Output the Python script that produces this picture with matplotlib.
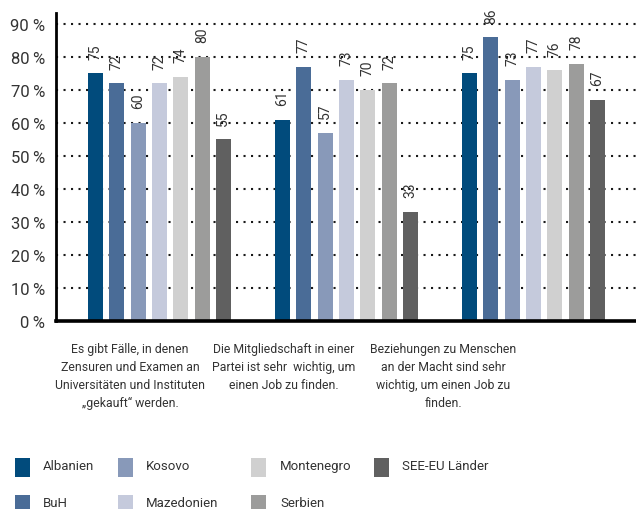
import numpy as np
import matplotlib
matplotlib.use("Agg")
import matplotlib.pyplot as plt
from matplotlib.patches import Rectangle

# survey answers, percent agreeing
countries = ["Albanien", "BuH", "Kosovo", "Mazedonien", "Montenegro", "Serbien", "SEE-EU Länder"]
colors = ["#014b7c", "#4a6c97", "#8899b9", "#c5cadc", "#d0d0d0", "#9c9c9b", "#606060"]
statements = [
    "Es gibt Fälle, in denen\nZensuren und Examen an\nUniversitäten und Instituten\n„gekauft“ werden.",
    "Die Mitgliedschaft in einer\nPartei ist sehr  wichtig, um\neinen Job zu finden.",
    "Beziehungen zu Menschen\nan der Macht sind sehr\nwichtig, um einen Job zu\nfinden.",
]
albanien = [75, 61, 75]
buh = [72, 77, 86]
kosovo = [60, 57, 73]
mazedonien = [72, 73, 77]
montenegro = [74, 70, 76]
serbien = [80, 72, 78]
see_eu = [55, 33, 67]
series = [albanien, buh, kosovo, mazedonien, montenegro, serbien, see_eu]

yticks = [0, 10, 20, 30, 40, 50, 60, 70, 80, 90]
ytick_labels = ["0\u2009%", "10\u2009%", "20\u2009%", "30\u2009%", "40\u2009%",
                "50\u2009%", "60\u2009%", "70\u2009%", "80\u2009%", "90 %"]

FONT = ["Roboto", "DejaVu Sans"]
TXT = "#333333"
plt.rcParams['font.family'] = FONT

W, H = 636, 510
fig = plt.figure(figsize=(W / 100, H / 100), dpi=100)
ax = fig.add_axes([56 / W, 1 - 322 / H, 1 - 56 / W, (322 - 14) / H])

x = np.arange(len(statements))
step = 0.114
width = 0.08
for i, (vals, col) in enumerate(zip(series, colors)):
    pos = x + (i - 3) * step
    bars = ax.bar(pos, vals, width, color=col, zorder=3)
    for b, v in zip(bars, vals):
        ax.annotate(str(v), (b.get_x() + b.get_width() / 2, v),
                    xytext=(0, 10.5), textcoords="offset points",
                    rotation=90, ha="center", va="bottom",
                    fontsize=10, color=TXT)

ax.set_xlim(-0.553, 2.548)
ax.set_ylim(0, 93.3)
ax.set_xticks([])
ax.set_yticks(yticks)
ax.set_yticklabels(ytick_labels, fontsize=12, color=TXT)
ax.tick_params(axis="y", length=0, pad=8)

for t in yticks[1:]:
    ax.axhline(t, color="#1a1a1a", linewidth=1.5, linestyle=(0, (1, 2.6)), zorder=1)

for s in ["top", "right"]:
    ax.spines[s].set_visible(False)
ax.spines["left"].set_linewidth(2)
ax.spines["bottom"].set_linewidth(2.6)
ax.spines["left"].set_color("black")
ax.spines["bottom"].set_color("black")
ax.spines["bottom"].set_zorder(5)

# statement captions under each group
for xp, lab in zip([130, 284, 443], statements):
    fig.text(xp / W, 1 - 343 / H, lab, ha="center", va="top",
             fontsize=8.8, color=TXT, linespacing=1.5)

# legend, filled column by column
col_x = [15, 118, 251, 374]
text_x = [43, 146, 280, 402]
row_y = [459, 496]
for i, (name, col) in enumerate(zip(countries, colors)):
    c, r = divmod(i, 2)
    fig.add_artist(Rectangle((col_x[c] / W, 1 - (row_y[r] + 19) / H), 15 / W, 19 / H,
                             transform=fig.transFigure, color=col, lw=0))
    fig.text(text_x[c] / W, 1 - (row_y[r] + 8) / H, name, ha="left", va="center",
             fontsize=9.5, color=TXT)

fig.savefig("out.png", dpi=100)
